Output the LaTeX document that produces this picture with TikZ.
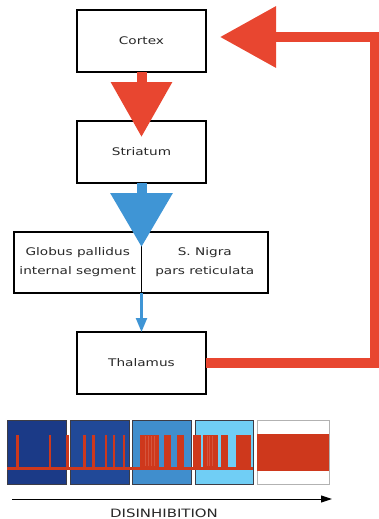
\documentclass[tikz,border=0pt]{standalone}
\usepackage{fontspec}
\newfontfamily\hand[FakeStretch=1.3]{DejaVu Sans}
\usetikzlibrary{arrows.meta}
\definecolor{redarr}{RGB}{232,70,48}
\definecolor{bluearr}{RGB}{63,149,213}
\definecolor{spikered}{RGB}{206,56,28}
\definecolor{barA}{RGB}{27,58,135}
\definecolor{barB}{RGB}{33,73,152}
\definecolor{barC}{RGB}{64,142,205}
\definecolor{barD}{RGB}{112,206,245}
\definecolor{txt}{RGB}{40,40,40}
\tikzset{
  box/.style={draw=black, line width=1.2pt, minimum width=129pt, minimum height=62pt,
    inner sep=0pt, outer sep=0pt, text=txt, font=\hand\fontsize{10.5}{19}\selectfont, align=center},
  fatred/.style={draw=redarr, line width=10pt, -{Triangle[length=55pt,width=59pt]}},
  fatblue/.style={draw=bluearr, line width=10pt, -{Triangle[length=54pt,width=60pt]}},
  thinblue/.style={draw=bluearr, line width=2.2pt, -{Triangle[length=14pt,width=11pt]}},
  feedback/.style={draw=redarr, line width=10pt, line join=miter, -{Triangle[length=56pt,width=59pt]}},
  barbox/.style={draw={rgb,255:red,60;green,60;blue,70}, line width=0.8pt},
  spike/.style={fill=spikered},
  gapline/.style={draw=white, opacity=0.15, line width=0.5pt}
}
\begin{document}
\begin{tikzpicture}[x=1pt,y=-1pt]
\useasboundingbox (0,0) rectangle (379,519);

% main boxes
\node[box] (cortex) at (141.5,41) {Cortex};
\node[box] (striatum) at (141.5,152) {Striatum};
\node[box, minimum width=127.5pt, minimum height=61pt] (gp) at (77.75,262.5) {Globus pallidus\\internal segment};
\node[box, minimum width=126.5pt, minimum height=61pt] (sn) at (204.75,262.5) {S. Nigra\\pars reticulata};
\node[box] (thal) at (141.5,363) {Thalamus};

% connectors
\draw[fatred] (cortex.south) -- ([yshift=-16pt]striatum.north);
\draw[fatblue] (striatum.south) -- ([yshift=-15pt]gp.north east);
\draw[thinblue] (gp.south east) -- (thal.north);
\coordinate (c1) at (374.5,363);
\coordinate (c2) at (374.5,37);
\coordinate (fbtip) at (220,37);
\draw[feedback] (thal.east) -- (c1) -- (c2) -- (fbtip);

% firing pattern bars
\fill[barA] (7,420) rectangle (66,484);
\fill[barB] (70,420) rectangle (129,484);
\fill[barC] (132,420) rectangle (191,484);
\fill[barD] (195,420) rectangle (253,484);
\fill[white] (257,420) rectangle (329,484);
\draw[barbox] (7,420) rectangle (66,484);
\draw[barbox] (70,420) rectangle (129,484);
\draw[barbox] (132,420) rectangle (191,484);
\draw[barbox] (195,420) rectangle (253,484);
\draw[draw=gray!60, line width=0.8pt] (257,420) rectangle (329,484);

\fill[spike] (7,467) rectangle (253,470);
\foreach \a/\b in {16/18.5, 48.5/51, 66/69, 83/85.5, 92/94.5, 104.5/107, 112.5/115, 122.5/125,
                   140/159, 164/171, 177/184,
                   193/201, 203/218, 220.5/228, 236/251}
  \fill[spike] (\a,435) rectangle (\b,470);
\foreach \x in {145,148,151,154,207,209.5,212}
  \draw[gapline] (\x,436) -- (\x,466);
\fill[spike] (257,434) rectangle (329,471);

% disinhibition axis
\coordinate (dstart) at (12,499);
\coordinate (dend) at (332,499);
\draw[line width=1pt, -{Triangle[length=11pt,width=7pt]}] (dstart) -- (dend);
\node[text=txt, font=\hand\fontsize{11.5}{13}\selectfont, inner sep=0pt] (dis) at (164,513) {DISINHIBITION};
\end{tikzpicture}
\end{document}
